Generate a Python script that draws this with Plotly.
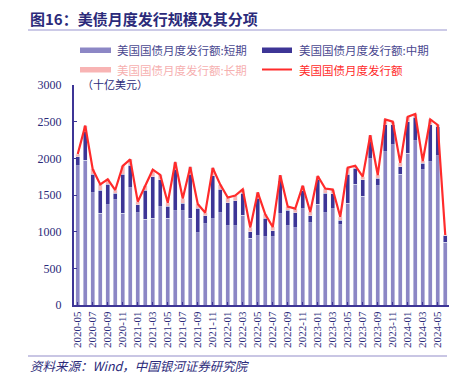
import plotly.graph_objects as go

months = [f"{y}-{m:02d}" for y, m in
          [(2020, m) for m in range(5, 13)] + [(2021, m) for m in range(1, 13)] +
          [(2022, m) for m in range(1, 13)] + [(2023, m) for m in range(1, 13)] +
          [(2024, m) for m in range(1, 7)]]

short_term = [1896, 1977, 1532, 1250, 1364, 1432, 1250, 1600, 1259, 1168,
              1186, 1341, 1182, 1286, 1286, 1182, 986, 1105, 1177, 1259,
              1082, 1082, 1227, 909, 945, 932, 932, 1241, 1082, 1055,
              1314, 1123, 1377, 1259, 1314, 1091, 1386, 1650, 1486, 1991,
              1623, 2091, 2182, 1782, 2068, 2241, 1841, 1955, 2032, 855]
mid_term = [127, 387, 254, 318, 286, 91, 536, 309, 105, 400,
            564, 364, 168, 564, 100, 600, 332, 109, 587, 318,
            313, 341, 296, 91, 510, 250, 82, 450, 213, 204,
            241, 91, 337, 264, 200, 68, 400, 214, 219, 236,
            104, 364, 273, 104, 432, 318, 91, 500, 400, 90]
long_term = [36, 82, 64, 77, 64, 45, 110, 77, 45, 55,
             95, 70, 45, 100, 65, 100, 59, 45, 105, 65,
             70, 70, 54, 55, 80, 55, 50, 80, 46, 55,
             72, 55, 45, 65, 60, 45, 88, 36, 45, 88,
             46, 75, 45, 52, 66, 46, 32, 75, 23, 10]
total = [2059, 2446, 1850, 1645, 1714, 1568, 1896, 1986, 1409, 1623,
         1845, 1775, 1395, 1950, 1451, 1882, 1377, 1259, 1869, 1642,
         1465, 1493, 1577, 1055, 1535, 1237, 1064, 1771, 1341, 1314,
         1627, 1269, 1759, 1588, 1574, 1204, 1874, 1900, 1750, 2315,
         1773, 2530, 2500, 1938, 2566, 2605, 1964, 2530, 2455, 955]

tick_labels = months[::2]

NAVY = "#2B2A7A"
SERIF = "Liberation Serif, Noto Sans CJK SC, serif"
CJK = "Noto Sans CJK SC, Liberation Serif, serif"

# page body has an 8px margin; lay out in window pixels and shift
OFF = 8
W, H = 467 - OFF, 390 - OFF
L, R, T, B = 74, 449, 85, 305  # window pixel coordinates of plot area

def px(x):
    return (x - L) / (R - L)
def py(y):
    return (B - y) / (B - T)

fig = go.Figure()
fig.add_bar(x=months, y=short_term, marker_color="#8C87C5", name="短期")
fig.add_bar(x=months, y=mid_term, marker_color="#3D3596", name="中期")
fig.add_bar(x=months, y=long_term, marker_color="#F8B4B4", name="长期")
fig.add_scatter(x=months, y=total, mode="lines", line=dict(color="#FF2B2B", width=2.2),
                name="合计")

shapes = [
    dict(type="line", xref="paper", yref="paper", x0=px(28), x1=px(447), y0=py(30), y1=py(30),
         line=dict(color="#9A96D0", width=1.2)),
    dict(type="line", xref="paper", yref="paper", x0=px(28), x1=px(447), y0=py(356), y1=py(356),
         line=dict(color="#C9C6E4", width=2)),
    dict(type="rect", xref="paper", yref="paper", x0=px(80), x1=px(111), y0=py(53), y1=py(47.5),
         fillcolor="#8C87C5", line_width=0),
    dict(type="rect", xref="paper", yref="paper", x0=px(262), x1=px(292), y0=py(53), y1=py(47.5),
         fillcolor="#3D3596", line_width=0),
    dict(type="rect", xref="paper", yref="paper", x0=px(80), x1=px(111), y0=py(72.5), y1=py(67),
         fillcolor="#F8B4B4", line_width=0),
    dict(type="line", xref="paper", yref="paper", x0=px(262), x1=px(292), y0=py(69.5), y1=py(69.5),
         line=dict(color="#FF2B2B", width=2)),
]

def ann(x, y, text, color, size, font=CJK, anchor="left"):
    return dict(xref="paper", yref="paper", x=px(x), y=py(y), text=text, showarrow=False,
                xanchor=anchor, yanchor="middle", font=dict(color=color, size=size, family=font))

annotations = [
    ann(28, 19, "<b>图16：美债月度发行规模及其分项</b>", NAVY, 15),
    ann(115, 50, "美国国债月度发行额:短期", "#4A4890", 11.5),
    ann(297, 50, "美国国债月度发行额:中期", "#4A4890", 11.5),
    ann(115, 70, "美国国债月度发行额:长期", "#F6B0B0", 11.5),
    ann(297, 70, "美国国债月度发行额", "#FF2B2B", 11.5),
    ann(80, 84, "（十亿美元）", NAVY, 11),
    ann(28, 365, "<i>资料来源：Wind，中国银河证券研究院</i>", NAVY, 12.5),
]

fig.update_layout(
    barmode="stack",
    bargap=0.45,
    width=W, height=H,
    margin=dict(l=L - OFF, r=467 - R, t=T - OFF, b=390 - B),
    paper_bgcolor="white", plot_bgcolor="white",
    showlegend=False,
    shapes=shapes,
    annotations=annotations,
    xaxis=dict(type="category", range=[-0.5, len(months) - 0.5], tickmode="array",
               tickvals=tick_labels, ticktext=tick_labels, tickangle=-90,
               tickfont=dict(family=SERIF, size=11, color=NAVY),
               showline=True, linecolor="#3D3596", linewidth=2,
               ticks="inside", ticklen=3, tickcolor="#3D3596", showgrid=False,
               automargin=False),
    yaxis=dict(range=[0, 3000], tickvals=[0, 500, 1000, 1500, 2000, 2500, 3000],
               tickfont=dict(family=SERIF, size=12, color=NAVY),
               showline=True, linecolor="#3D3596", linewidth=2,
               ticks="inside", ticklen=3, tickcolor="#3D3596", showgrid=False,
               ticklabelstandoff=8, zeroline=False, automargin=False),
)

fig.write_html("out.html")
